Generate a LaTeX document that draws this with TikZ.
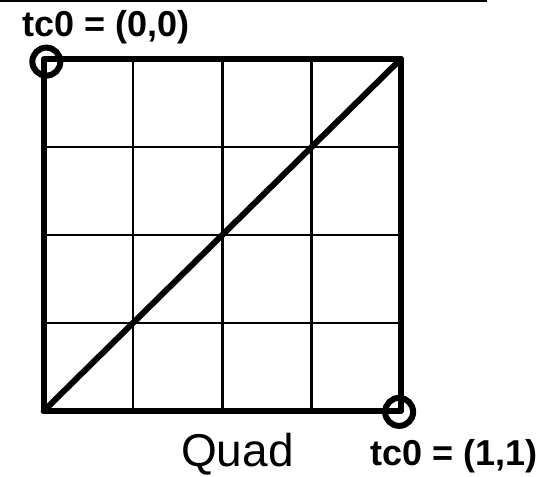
\documentclass[tikz,border=0pt]{standalone}
\usepackage{fontspec}
\setmainfont{Liberation Sans}
\usepackage{tikz}

\tikzset{
  edge/.style={line width=3pt, line join=round, line cap=round},
  gridline/.style={line width=1.3pt},
  ring/.style={circle, draw, line width=3pt, minimum size=14pt, inner sep=0pt},
  tclabel/.style={inner sep=0pt, font=\fontsize{18}{21}\selectfont\bfseries}
}

\begin{document}
\begin{tikzpicture}[x=44.65pt, y=-44pt]
  \useasboundingbox (-0.489,-0.670) rectangle (5.759,4.739);
  \draw[line width=1.2pt] (-0.489,-0.657) -- (4.964,-0.657);
  \coordinate (tl) at (0,0); \coordinate (tr) at (4,0); \coordinate (bl) at (0,4); \coordinate (br) at (4,4);
  \foreach \i in {1,2,3} {\draw[gridline] (\i,0) -- (\i,4); \draw[gridline] (0,\i) -- (4,\i);}
  \draw[edge] (tl) -- (tr) -- (br) -- (bl) -- cycle; \draw[edge] (bl) -- (tr);
  \node[ring] (c00) at (0.03,0.03) {}; \node[ring] (c11) at (3.98,4.01) {};
  \node[tclabel, anchor=base west] (lab00) at (-0.246,-0.261) {tc0 = (0,0)};
  \node[tclabel, anchor=base west] (lab11) at (3.654,4.614) {tc0 = (1,1)};
  \node[inner sep=0pt, anchor=base, font=\fontsize{23}{27}\selectfont] (quad) at (2.17,4.625) {Quad};
\end{tikzpicture}
\end{document}
